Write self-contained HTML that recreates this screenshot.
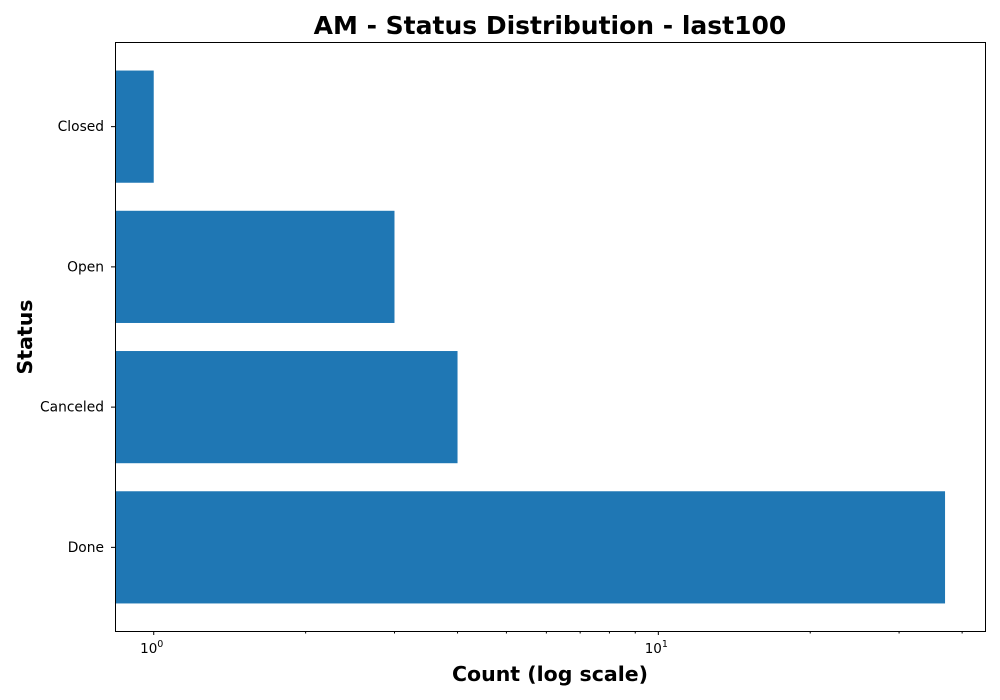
<!DOCTYPE html>
<html><head><meta charset="utf-8"><style>body{margin:0;background:#fff}svg{display:block;font-family:"DejaVu Sans","Liberation Sans",sans-serif}</style></head>
<body>
<svg id="chart" width="1000" height="700">
<rect x="0" y="0" width="1000" height="700" fill="#fff"/>
<text x="550" y="34" text-anchor="middle" font-size="25" font-weight="bold">AM - Status Distribution - last100</text>
<text x="550" y="681" text-anchor="middle" font-size="20.5" font-weight="bold">Count (log scale)</text>
<text transform="translate(32,337) rotate(-90)" text-anchor="middle" font-size="20.5" font-weight="bold">Status</text>
<g id="bars"></g><g id="ticks"></g>
<rect x="115.5" y="42.5" width="870" height="589" fill="none" stroke="#000" stroke-width="1"/>
</svg>
<script>
const categories = ["Done","Canceled","Open","Closed"];
const values = [37, 4, 3, 1];
const majorTicks = [1, 10];
const majorLabels = ["0", "1"];
const minorTicks = [2,3,4,5,6,7,8,9,20,30,40];
const L=115,R=985,T=42,B=631,xmin=0.838,xmax=44.4;
const NS="http://www.w3.org/2000/svg";
function x(v){return L+(Math.log10(v)-Math.log10(xmin))/(Math.log10(xmax)-Math.log10(xmin))*(R-L);}
const n=categories.length, step=(B-T)/(n-0.2+0.4);
function yc(i){return B+0.5-step*(0.6+i);}
function mk(t,a){const e=document.createElementNS(NS,t);for(const k in a)e.setAttribute(k,a[k]);return e;}
const bars=document.getElementById('bars'), ticks=document.getElementById('ticks');
categories.forEach((c,i)=>{
  const h=step*0.8;
  const r=mk('rect',{x:L,y:yc(i)-h/2,width:Math.max(0,x(values[i])-L),height:h,fill:'#1f77b4'});
  
  
  bars.appendChild(r);
  const tl=mk('line',{x1:L-4,x2:L,y1:yc(i),y2:yc(i),stroke:'#000'});
  ticks.appendChild(tl);
  const t=mk('text',{x:L-11,y:yc(i)+4.5,'text-anchor':'end','font-size':13.8});
  t.textContent=c;
  
  
  ticks.appendChild(t);
});
majorTicks.forEach((v,i)=>{
  const px=x(v);
  ticks.appendChild(mk('line',{x1:px,x2:px,y1:B,y2:B+4,stroke:'#000'}));
  const t=mk('text',{x:px-2,y:B+22,'text-anchor':'middle','font-size':13.5});
  t.textContent='10';
  const s=mk('tspan',{dy:-6,'font-size':9.5});s.textContent=majorLabels[i];t.appendChild(s);
  
  
  ticks.appendChild(t);
});
minorTicks.forEach(v=>{const px=x(v);ticks.appendChild(mk('line',{x1:px,x2:px,y1:B,y2:B+2.5,stroke:'#000'}));});
</script>
</body></html>
